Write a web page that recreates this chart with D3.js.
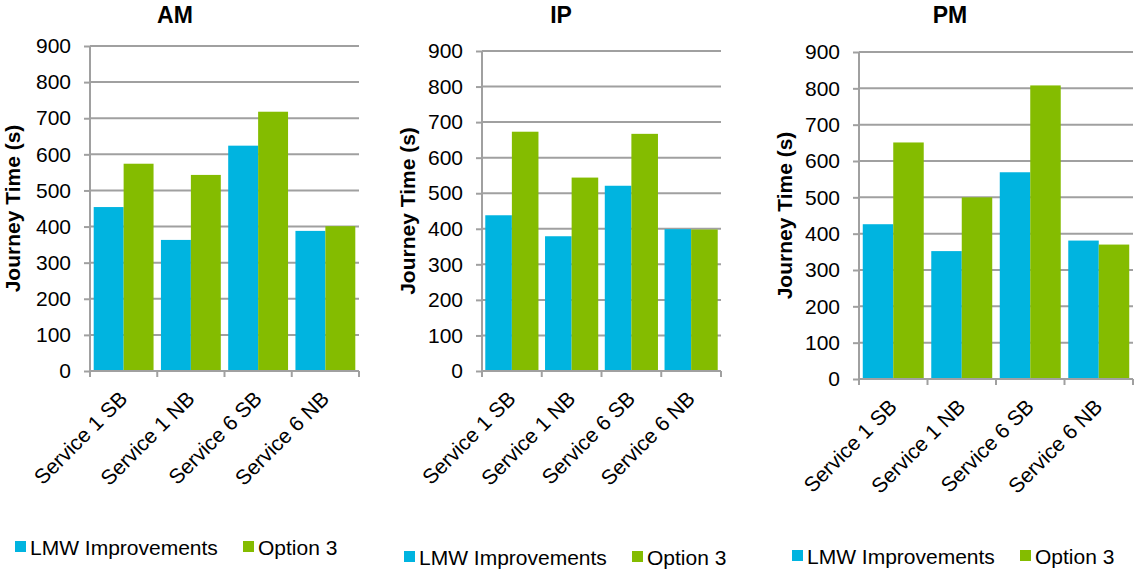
<!DOCTYPE html>
<html>
<head>
<meta charset="utf-8">
<script src="https://cdn.jsdelivr.net/npm/d3@7"></script>
<style>
  html, body { margin: 0; padding: 0; background: #fff; }
  svg { display: block; font-family: Arial, "Liberation Sans", sans-serif; }
</style>
</head>
<body>
<svg id="chart" width="1134" height="569"></svg>
<script>
// Journey times (seconds) per service and direction, for each time period
const categories = ["Service 1 SB", "Service 1 NB", "Service 6 SB", "Service 6 NB"];
const seriesNames = ["LMW Improvements", "Option 3"];
const periods = ["AM", "IP", "PM"];

const amLMW   = [454, 363, 624, 388];
const amOpt3  = [574, 543, 718, 401];
const ipLMW   = [438, 379, 521, 399];
const ipOpt3  = [673, 544, 667, 398];
const pmLMW   = [426, 352, 569, 381];
const pmOpt3  = [651, 500, 808, 370];

const yTicks = [0, 100, 200, 300, 400, 500, 600, 700, 800, 900];
const yTitle = "Journey Time (s)";

const seriesColors = ["#00B4E0", "#84BC00"];
const gridColor = "#A0A0A0";

// Panel frames: plot rectangle, title position, legend row
const panels = [
  { name: periods[0], values: [amLMW, amOpt3], left: 90,  right: 359,  top: 46,  bottom: 371,
    titleX: 175, yTitleX: 20, legendX: 15,  legendY: 547 },
  { name: periods[1], values: [ipLMW, ipOpt3], left: 482, right: 721,  top: 51,  bottom: 371,
    titleX: 561, yTitleX: 415, legendX: 404, legendY: 557 },
  { name: periods[2], values: [pmLMW, pmOpt3], left: 859, right: 1133, top: 52,  bottom: 379,
    titleX: 950, yTitleX: 792, legendX: 792, legendY: 556 }
];

const svg = d3.select("#chart");

panels.forEach(p => {
  const g = svg.append("g");

  const y = d3.scaleLinear().domain([0, 900]).range([p.bottom, p.top]);
  const x = d3.scaleBand().domain(categories).range([p.left, p.right]).padding(0);
  const pad = x.bandwidth() * 0.055;
  const xs = d3.scaleBand().domain(seriesNames).range([pad, x.bandwidth() - pad]).padding(0);

  // horizontal gridlines
  g.append("g").selectAll("line")
    .data(yTicks.filter(t => t > 0))
    .join("line")
    .attr("x1", p.left).attr("x2", p.right)
    .attr("y1", d => y(d)).attr("y2", d => y(d))
    .attr("stroke", gridColor).attr("stroke-width", 2);

  // bars
  seriesNames.forEach((s, si) => {
    g.append("g").selectAll("rect")
      .data(categories.map((c, i) => ({ c, v: p.values[si][i] })))
      .join("rect")
      .attr("x", d => x(d.c) + xs(s))
      .attr("width", xs.bandwidth())
      .attr("y", d => y(d.v))
      .attr("height", d => y(0) - y(d.v))
      .attr("fill", seriesColors[si]);
  });

  // y axis
  const yAxis = g.append("g")
    .attr("transform", `translate(${p.left},0)`)
    .call(d3.axisLeft(y).tickValues(yTicks).tickSize(6).tickPadding(13).tickFormat(d3.format("d")));
  yAxis.select(".domain").remove();
  yAxis.selectAll(".tick line").attr("stroke", gridColor).attr("stroke-width", 2);
  yAxis.selectAll(".tick text")
    .attr("font-size", 21).attr("fill", "#000")
    .attr("font-family", "Arial, 'Liberation Sans', sans-serif");

  g.append("line")
    .attr("x1", p.left).attr("x2", p.left)
    .attr("y1", p.top).attr("y2", p.bottom + 6)
    .attr("stroke", gridColor).attr("stroke-width", 2);

  // x axis baseline and category dividers
  g.append("line")
    .attr("x1", p.left).attr("x2", p.right)
    .attr("y1", p.bottom).attr("y2", p.bottom)
    .attr("stroke", gridColor).attr("stroke-width", 2);
  const bounds = categories.map(c => x(c)).concat([p.right]);
  g.append("g").selectAll("line")
    .data(bounds.slice(1))
    .join("line")
    .attr("x1", d => d).attr("x2", d => d)
    .attr("y1", p.bottom).attr("y2", p.bottom + 6)
    .attr("stroke", gridColor).attr("stroke-width", 2);

  // rotated category labels
  g.append("g").selectAll("text")
    .data(categories)
    .join("text")
    .attr("transform", d => `translate(${x(d) + x.bandwidth() / 2 + 5},${p.bottom + 29}) rotate(-45)`)
    .attr("text-anchor", "end")
    .attr("font-size", 21)
    .attr("fill", "#000")
    .text(d => d);

  // panel title
  g.append("text")
    .attr("x", p.titleX).attr("y", 23)
    .attr("text-anchor", "middle")
    .attr("font-size", 23).attr("font-weight", "bold")
    .text(p.name);

  // y axis title
  g.append("text")
    .attr("transform", `translate(${p.yTitleX},${(p.top + p.bottom) / 2}) rotate(-90)`)
    .attr("text-anchor", "middle")
    .attr("font-size", 21).attr("font-weight", "bold")
    .text(yTitle);

  // legend
  const lg = g.append("g").attr("transform", `translate(${p.legendX},${p.legendY})`);
  const offsets = [0, 228];
  seriesNames.forEach((s, si) => {
    const item = lg.append("g").attr("transform", `translate(${offsets[si]},0)`);
    item.append("rect")
      .attr("x", 0).attr("y", -6).attr("width", 11).attr("height", 11)
      .attr("fill", seriesColors[si]);
    item.append("text")
      .attr("x", 15).attr("y", 7.5)
      .attr("font-size", 21).attr("fill", "#000")
      .text(s);
  });
});
</script>
</body>
</html>
